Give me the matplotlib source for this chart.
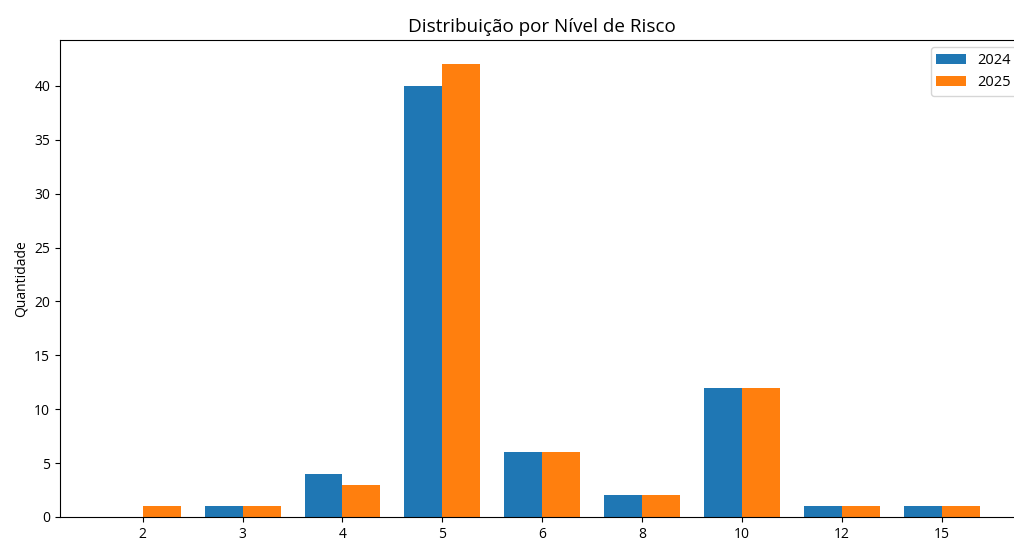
import matplotlib
matplotlib.use("Agg")
import matplotlib.pyplot as plt
import numpy as np

plt.rcParams['font.family'] = ['Open Sans', 'DejaVu Sans']

categories = ["2", "3", "4", "5", "6", "8", "10", "12", "15"]
values_2024 = [0, 1, 4, 40, 6, 2, 12, 1, 1]
values_2025 = [1, 1, 3, 42, 6, 2, 12, 1, 1]

fig = plt.figure(figsize=(10.14, 5.41), dpi=100)
W, H = 1014, 541
ax = fig.add_axes([60 / W, (H - 517) / H, (1024 - 60) / W, (517 - 40) / H])

x = np.arange(len(categories))
w = 0.38
ax.bar(x - w / 2, values_2024, w, label="2024", color="#1f77b4")
ax.bar(x + w / 2, values_2025, w, label="2025", color="#ff7f0e")

ax.set_xticks(x)
ax.set_xticklabels(categories, fontsize=10)
ax.tick_params(axis='y', labelsize=10)
ax.set_xlim(-0.827, len(categories) - 1 + 0.82)
ax.set_ylim(0, 44.25)
ax.set_ylabel("Quantidade", fontsize=10)
ax.set_title("Distribuição por Nível de Risco", fontsize=13.6)
ax.legend(loc="upper right", fontsize=10.5)

fig.savefig("out.png", dpi=100)
